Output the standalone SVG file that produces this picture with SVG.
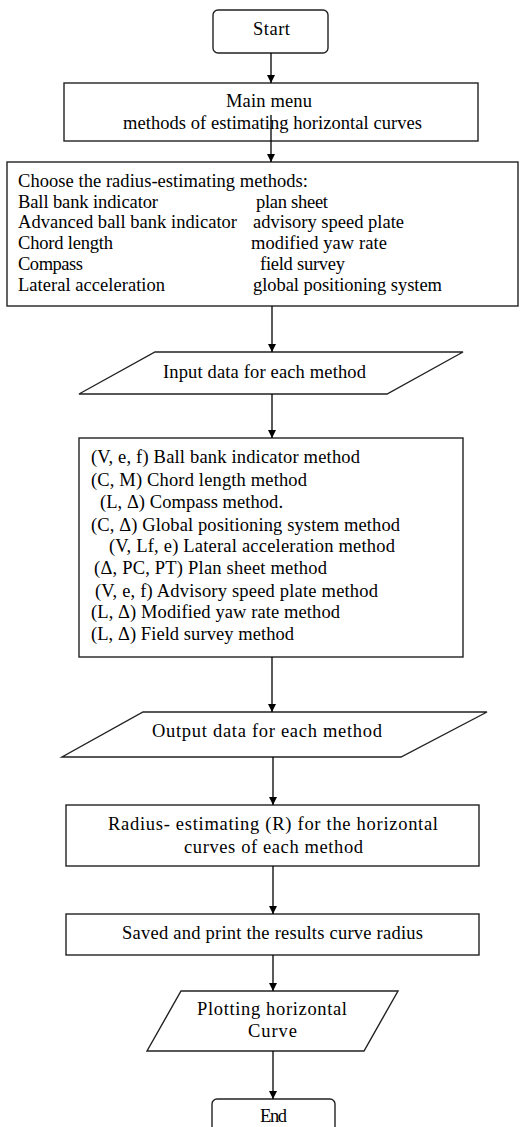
<svg xmlns="http://www.w3.org/2000/svg" width="529" height="1127" viewBox="0 0 529 1127">
<style>
.b{fill:#fff;stroke:#222;stroke-width:1.4}
.t{font-family:"Liberation Serif","Times New Roman",serif;font-size:18.5px;fill:#000}
.c{text-anchor:middle}
.e{stroke:#000;stroke-width:1.3;fill:none;marker-end:url(#ah)}
</style>
<defs>
<marker id="ah" viewBox="0 0 10 10" refX="10" refY="5" markerWidth="8" markerHeight="10" markerUnits="userSpaceOnUse" orient="auto">
<path d="M0,0 L10,5 L0,10 z" fill="#000"/>
</marker>
</defs>
<rect width="529" height="1127" fill="#fff"/>
<g id="start">
<rect class="b" x="213" y="10" width="115" height="43" rx="5"/>
<text class="t" x="253" y="35" textLength="37" lengthAdjust="spacing">Start</text>
</g>
<g id="main">
<rect class="b" x="64" y="83" width="414" height="58"/>
<text class="t" x="226" y="107" textLength="86" lengthAdjust="spacing">Main menu</text>
<text class="t" x="123" y="129" textLength="299" lengthAdjust="spacing">methods of estimating horizontal curves</text>
</g>
<g id="choose">
<rect class="b" x="7" y="162" width="511" height="144"/>
<text class="t" x="18" y="187" textLength="290" lengthAdjust="spacing">Choose the radius-estimating methods:</text>
<text class="t" x="18" y="208" textLength="140" lengthAdjust="spacing">Ball bank indicator</text>
<text class="t" x="18" y="228" textLength="219" lengthAdjust="spacing">Advanced ball bank indicator</text>
<text class="t" x="18" y="249" textLength="95" lengthAdjust="spacing">Chord length</text>
<text class="t" x="18" y="270" textLength="65" lengthAdjust="spacing">Compass</text>
<text class="t" x="18" y="291" textLength="147" lengthAdjust="spacing">Lateral acceleration</text>
<text class="t" x="256" y="208" textLength="72" lengthAdjust="spacing">plan sheet</text>
<text class="t" x="253" y="228" textLength="151" lengthAdjust="spacing">advisory speed plate</text>
<text class="t" x="251" y="249" textLength="136" lengthAdjust="spacing">modified yaw rate</text>
<text class="t" x="260" y="270" textLength="85" lengthAdjust="spacing">field survey</text>
<text class="t" x="253" y="291" textLength="189" lengthAdjust="spacing">global positioning system</text>
</g>
<g id="input">
<polygon class="b" points="155,352 463,352 387,394 79,394"/>
<text class="t" x="163" y="378" textLength="203" lengthAdjust="spacing">Input data for each method</text>
</g>
<g id="methods">
<rect class="b" x="79" y="438" width="384" height="219"/>
<text class="t" x="91" y="463" textLength="269" lengthAdjust="spacing">(V, e, f) Ball bank indicator method</text>
<text class="t" x="91" y="486" textLength="216" lengthAdjust="spacing">(C, M) Chord length method</text>
<text class="t" x="100" y="508" textLength="183" lengthAdjust="spacing">(L, Δ) Compass  method.</text>
<text class="t" x="91" y="531" textLength="309" lengthAdjust="spacing">(C, Δ) Global positioning system method</text>
<text class="t" x="109" y="552" textLength="286" lengthAdjust="spacing">(V, Lf, e) Lateral acceleration method</text>
<text class="t" x="94" y="574" textLength="233" lengthAdjust="spacing">(Δ, PC, PT) Plan sheet method</text>
<text class="t" x="95" y="597" textLength="283" lengthAdjust="spacing">(V, e, f) Advisory speed plate method</text>
<text class="t" x="91" y="618" textLength="249" lengthAdjust="spacing">(L, Δ) Modified yaw rate method</text>
<text class="t" x="91" y="640" textLength="203" lengthAdjust="spacing">(L, Δ) Field survey method</text>
</g>
<g id="output">
<polygon class="b" points="143,712 487,712 401,757 62,757"/>
<text class="t" x="152" y="737" textLength="230" lengthAdjust="spacing">Output data for each method</text>
</g>
<g id="radius">
<rect class="b" x="66" y="805" width="413" height="61"/>
<text class="t" x="108" y="830" textLength="330" lengthAdjust="spacing">Radius- estimating  (R) for the horizontal</text>
<text class="t" x="184" y="853" textLength="179" lengthAdjust="spacing">curves of each method</text>
</g>
<g id="saved">
<rect class="b" x="66" y="914" width="413" height="41"/>
<text class="t" x="122" y="939" textLength="301" lengthAdjust="spacing">Saved and print the results curve radius</text>
</g>
<g id="plotting">
<polygon class="b" points="181,991 398,991 364,1051 147,1051"/>
<text class="t" x="197" y="1015" textLength="150" lengthAdjust="spacing">Plotting horizontal</text>
<text class="t" x="248" y="1037" textLength="49" lengthAdjust="spacing">Curve</text>
</g>
<g id="end">
<rect class="b" x="212" y="1099" width="123" height="40" rx="5"/>
<text class="t" x="260" y="1122" textLength="27" lengthAdjust="spacing">End</text>
</g>
<g id="connectors">
<path class="e" d="M271,53 V83"/>
<path class="e" d="M271,115 V162"/>
<path class="e" d="M272,306 V352"/>
<path class="e" d="M272,394 V438"/>
<path class="e" d="M272,657 V712"/>
<path class="e" d="M273,757 V805"/>
<path class="e" d="M273,866 V914"/>
<path class="e" d="M273,955 V991"/>
<path class="e" d="M273,1051 V1099"/>
</g>
</svg>
